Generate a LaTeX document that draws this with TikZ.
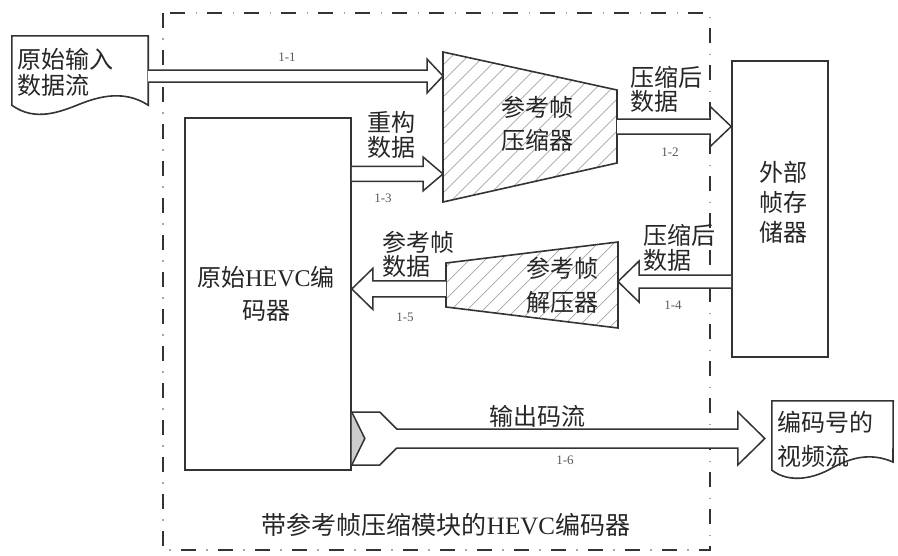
\documentclass[tikz,border=0pt]{standalone}
\usepackage{fontspec}
\newfontfamily\cjk{Noto Sans CJK SC}
\newfontfamily\lat{Liberation Serif}
\usetikzlibrary{calc}
\tikzset{
 ln/.style={line width=1.6pt, draw=black!80},
 blk/.style={line width=1.5pt, draw=black!80, fill=white, line join=miter},
 box/.style={ln, fill=white, inner sep=0pt, rectangle},
 cn/.style={font=\cjk\fontsize{24}{#1}\selectfont, text=black!85, inner sep=0pt},
 cn/.default=28,
 num/.style={font=\lat\fontsize{13}{14}\selectfont, text=black!65, inner sep=0pt},
 hatch/.style={draw=black!35, line width=0.7pt},
}
\newcommand\barrow[5]{%
 \draw[blk] let \p1=(#1), \p2=(#2), \n1={sign(\x2-\x1)} in
 (\x1,\y2+#3pt) -- (\x2-\n1*#5pt,\y2+#3pt) -- (\x2-\n1*#5pt,\y2+#4pt) -- (\x2,\y2)
 -- (\x2-\n1*#5pt,\y2-#4pt) -- (\x2-\n1*#5pt,\y2-#3pt) -- (\x1,\y2-#3pt);}
\begin{document}
\begin{tikzpicture}[x=1pt,y=-1pt]
\useasboundingbox (0,0) rectangle (898,555);
% frame
\coordinate (fTL) at (163,13); \coordinate (fBR) at (710,550);
\draw[line width=2pt, black!80, dash pattern=on 15pt off 22pt] (fTL) rectangle (fBR);
\draw[line width=1.2pt, black!35, dash pattern=on 1.5pt off 35.5pt, dash phase=12pt] (fTL) rectangle (fBR);
% input document
\node[inner sep=0pt, minimum width=136pt, minimum height=69pt] (doc1) at (80,70.5) {};
\draw[ln, fill=white] (doc1.south west) -- (doc1.north west) -- (doc1.north east) -- (doc1.south east)
  .. controls (125,90) and (100,96) .. (80,104) .. controls (60,112) and (35,122) .. (doc1.south west) -- cycle;
\node[cn=26, align=left, anchor=west] at (17,72) {原始输入\\数据流};
% encoder
\node[box, minimum width=166pt, minimum height=352pt] (enc) at (268,294) {};
\node[cn=33, align=center] at (266,294) {原始{\lat HEVC}编\\码器};
% store
\node[box, minimum width=96pt, minimum height=296pt] (store) at (780,209) {};
\node[cn=30, align=center] at (783,202) {外部\\帧存\\储器};
% compressor
\coordinate (cTL) at (443,52); \coordinate (cBL) at (443,202);
\coordinate (cTR) at (617,90); \coordinate (cBR) at (617,163);
\fill[white] (cTL) -- (cTR) -- (cBR) -- (cBL) -- cycle;
\begin{scope}
\clip (cTL) -- (cTR) -- (cBR) -- (cBL) -- cycle;
\foreach \i in {250,266,...,640} \draw[hatch] (\i,210) -- (\i+180,30);
\end{scope}
\draw[ln] (cTL) -- (cTR) -- (cBR) -- (cBL) -- cycle;
\node[cn=33, align=center] at (537,123.5) {参考帧\\压缩器};
% decompressor
\coordinate (dTL) at (446,263); \coordinate (dBL) at (446,307);
\coordinate (dTR) at (618,242); \coordinate (dBR) at (618,328);
\fill[white] (dTL) -- (dTR) -- (dBR) -- (dBL) -- cycle;
\begin{scope}
\clip (dTL) -- (dTR) -- (dBR) -- (dBL) -- cycle;
\foreach \i in {330,346,...,640} \draw[hatch] (\i,335) -- (\i+100,235);
\end{scope}
\draw[ln] (dTL) -- (dTR) -- (dBR) -- (dBL) -- cycle;
\node[cn=34, align=center] at (562,285) {参考帧\\解压器};
% output document
\node[inner sep=0pt, minimum width=121pt, minimum height=69pt] (doc2) at (832.5,435.5) {};
\draw[ln, fill=white] (doc2.south west) -- (doc2.north west) -- (doc2.north east) -- (893,462)
  .. controls (870,452) and (850,458) .. (832,468) .. controls (815,478) and (790,484) .. (doc2.south west) -- cycle;
\node[cn=34, align=left, anchor=west] at (777,439) {编码号的\\视频流};
% block arrows
\coordinate (t11) at ($(cTL)!0.16!(cBL)$);
\barrow{doc1.east |- t11}{t11}{6}{17}{16}
\coordinate (t13) at ($(cTL)!0.813!(cBL)$);
\barrow{enc.east |- t13}{t13}{7.5}{17}{20}
\coordinate (s12) at ($(cTR)!0.5!(cBR)$);
\barrow{s12}{store.west |- s12}{7.5}{20}{21}
\coordinate (s15) at ($(dTL)!0.59!(dBL)$);
\barrow{s15}{enc.east |- s15}{8}{20.5}{21}
\coordinate (t14) at ($(dTR)!0.46!(dBR)$);
\barrow{store.west |- t14}{t14}{6.5}{20.5}{21}
% output stream chevron
\coordinate (t16) at ($(doc2.west)+(-7,3)$);
\draw[blk] let \p1=(enc.east |- t16), \p2=(t16) in
 (\x1,\y1+26.5pt) -- (\x1+28pt,\y1+26.5pt) -- (\x1+45pt,\y1+9.5pt) -- (\x2-27pt,\y1+9.5pt)
 -- (\x2-27pt,\y1+26.5pt) -- (\x2,\y1) -- (\x2-27pt,\y1-26.5pt) -- (\x2-27pt,\y1-9.5pt)
 -- (\x1+45pt,\y1-9.5pt) -- (\x1+28pt,\y1-26.5pt) -- (\x1,\y1-26.5pt);
\draw[blk, fill=black!20] let \p1=(enc.east |- t16) in
 (\x1,\y1+26.5pt) -- (\x1+13pt,\y1) -- (\x1,\y1-26.5pt);
% labels
\node[num] at (287,57) {1-1};
\node[cn=25, align=center] at (391,134.5) {重构\\数据};
\node[num] at (383,198) {1-3};
\node[cn=24, align=left, anchor=west] at (630,89) {压缩后\\数据};
\node[num] at (670,152) {1-2};
\node[cn=24, align=left, anchor=west] at (382,254) {参考帧\\数据};
\node[num] at (405,317) {1-5};
\node[cn=25, align=left, anchor=west] at (643,247.5) {压缩后\\数据};
\node[num] at (673,305) {1-4};
\node[cn] at (537,416) {输出码流};
\node[num] at (565,460) {1-6};
\node[font=\cjk\fontsize{25}{27}\selectfont, text=black!85, inner sep=0pt] at (446,525) {带参考帧压缩模块的{\lat HEVC}编码器};
\end{tikzpicture}
\end{document}
